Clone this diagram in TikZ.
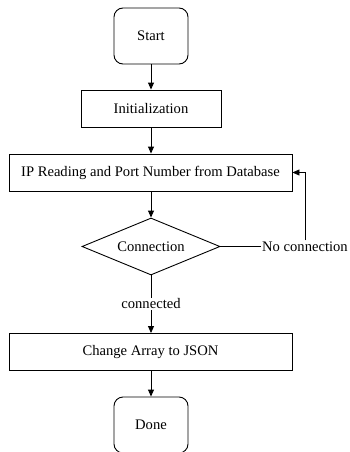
\documentclass[tikz,border=0pt]{standalone}
\usepackage{fontspec}
\setmainfont{Liberation Serif}
\usetikzlibrary{shapes.geometric,arrows.meta}
\begin{document}
\begin{tikzpicture}[x=1pt,y=-1pt,
  every node/.style={font=\fontsize{14.6}{16}\selectfont, inner sep=1pt},
  term/.style={draw, line width=0.9pt, rounded corners=9pt, minimum width=74pt, minimum height=56pt},
  proc/.style={draw, line width=0.9pt, minimum height=37pt},
  dec/.style={draw, line width=0.9pt, diamond, aspect=2.4, minimum width=138pt, minimum height=57pt, inner sep=0pt},
  lbl/.style={inner sep=1pt},
  conn/.style={line width=0.9pt},
  arr/.style={line width=0.9pt, -{Triangle[length=7pt,width=6pt]}}]
\useasboundingbox (0,0) rectangle (350,452);
\node[term] (start) at (151,36) {Start};
\node[proc, minimum width=140pt] (init) at (151,108.5) {Initialization};
\node[proc, minimum width=283pt] (ip) at (150.5,172.5) {IP Reading and Port Number from Database};
\node[dec] (conn) at (151,246.5) {Connection};
\node[lbl, anchor=west] (noc) at (261,246.5) {No connection};
\node[lbl] (cd) at (151,304) {connected};
\node[proc, minimum width=283pt] (chg) at (150.5,352) {Change Array to JSON};
\node[term] (done) at (151,425) {Done};
\draw[arr] (start) -- (init);
\draw[arr] (init) -- (init.south |- ip.north);
\draw[arr] (ip.south -| conn.north) -- (conn);
\draw[conn] (conn.east) -- (noc.west);
\draw[arr] (noc.north) |- (ip.east);
\draw[conn] (conn.south) -- (cd.north);
\draw[arr] (cd.south) -- (cd.south |- chg.north);
\draw[arr] (chg.south -| done.north) -- (done.north);
\end{tikzpicture}
\end{document}
